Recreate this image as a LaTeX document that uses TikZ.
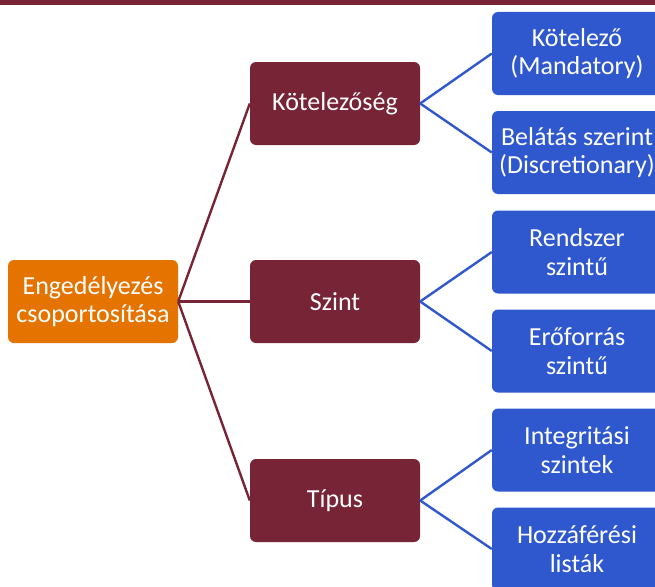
\documentclass[tikz,border=0pt]{standalone}
\usepackage{fontspec}
\setmainfont{Carlito}
\definecolor{wine}{HTML}{772436}
\definecolor{rootorange}{HTML}{E57300}
\definecolor{leafblue}{HTML}{2F58CF}
\begin{document}
\begin{tikzpicture}[x=1pt,y=-1pt,
  box/.style={rectangle, rounded corners=6pt, minimum width=170pt, minimum height=83pt,
    inner sep=0pt, align=center, text=white, font=\fontsize{26}{28.5}\selectfont},
  rootbox/.style={box, fill=rootorange},
  midbox/.style={box, fill=wine},
  leafbox/.style={box, fill=leafblue},
  redlink/.style={draw=wine, line width=2.4pt},
  bluelink/.style={draw=leafblue, line width=2.4pt}]
\useasboundingbox (0,0) rectangle (655,586);
\clip (0,0) rectangle (655,586);
% top band
\fill[wine] (0,0) rectangle (655,5);

% root
\node[rootbox] (root) at (93,301.5) {Engedélyezés\\csoportosítása};

% middle level
\node[midbox] (kot) at (335,103.5) {Kötelezőség};
\node[midbox] (szint) at (335,301.5) {Szint};
\node[midbox] (tipus) at (335,500.5) {Típus};

% leaves
\node[leafbox] (l1) at (577,53.5) {Kötelező\\(Mandatory)};
\node[leafbox] (l2) at (577,152.5) {Belátás szerint\\(Discretionary)};
\node[leafbox] (l3) at (577,252) {Rendszer\\szintű};
\node[leafbox] (l4) at (577,351) {Erőforrás\\szintű};
\node[leafbox] (l5) at (577,450) {Integritási\\szintek};
\node[leafbox] (l6) at (577,549) {Hozzáférési\\listák};

% connectors
\draw[redlink] (root.east) -- (kot.west);
\draw[redlink] (root.east) -- (szint.west);
\draw[redlink] (root.east) -- (tipus.west);
\draw[bluelink] (kot.east) -- (l1.west);
\draw[bluelink] (kot.east) -- (l2.west);
\draw[bluelink] (szint.east) -- (l3.west);
\draw[bluelink] (szint.east) -- (l4.west);
\draw[bluelink] (tipus.east) -- (l5.west);
\draw[bluelink] (tipus.east) -- (l6.west);
\end{tikzpicture}
\end{document}
